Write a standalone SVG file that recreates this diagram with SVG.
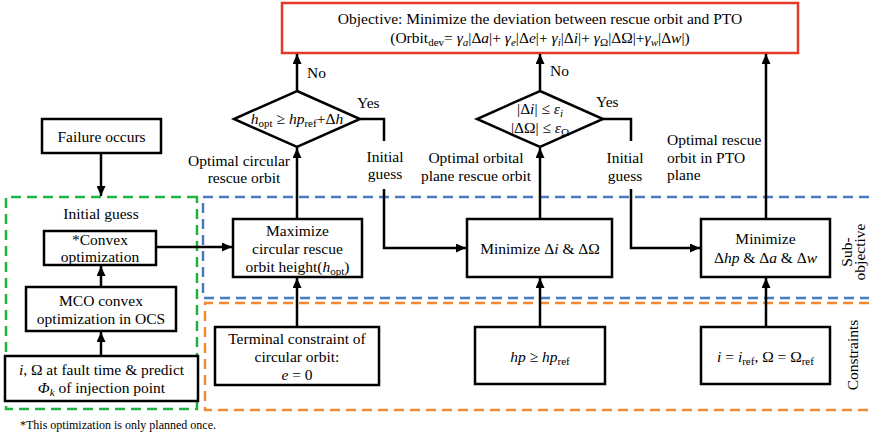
<svg xmlns="http://www.w3.org/2000/svg" width="869" height="438" viewBox="0 0 869 438" font-family="'Liberation Serif', 'DejaVu Serif', serif" font-size="15.5">
<style>
text{font-family:"Liberation Serif","DejaVu Serif",serif;font-size:15.5px;fill:#000}
.m{text-anchor:middle}
.i{font-style:italic}
.box{fill:#fff;stroke:#000;stroke-width:2.5}
.dia{fill:#fff;stroke:#000;stroke-width:2.5}
.ln{fill:none;stroke:#000;stroke-width:2.5}
.dg{fill:none;stroke:#21b33f;stroke-width:2.5;stroke-dasharray:10 6}
.db{fill:none;stroke:#4a7cc4;stroke-width:2.5;stroke-dasharray:10 6}
.do{fill:none;stroke:#ef8a35;stroke-width:2.5;stroke-dasharray:10 6}
.sub{font-size:11px}
</style>
<defs>
<marker id="ah" markerUnits="userSpaceOnUse" markerWidth="10" markerHeight="9" refX="10" refY="4.5" orient="auto">
<path d="M0,0 L10,4.5 L0,9 Z" fill="#000"/>
</marker>
</defs>
<rect width="869" height="438" fill="#fff"/>

<g id="regions">
<path class="dg" d="M197,197 H6 V409 H197 Z"/>
<path class="db" d="M869,197 H203 V298 H869"/>
<path class="do" d="M869,303 H205 V410 H869"/>
</g>

<g id="objective">
<rect x="282" y="3" width="516" height="50" fill="#fff" stroke="#e2392b" stroke-width="2.5"/>
<text class="m" x="540" y="24">Objective: Minimize the deviation between rescue orbit and PTO</text>
<text class="m" x="540" y="43">(Orbit<tspan class="sub" dy="3">dev</tspan><tspan dy="-3">= </tspan><tspan class="i">γ</tspan><tspan class="sub i" dy="3">a</tspan><tspan dy="-3">|Δ</tspan><tspan class="i">a</tspan>|+ <tspan class="i">γ</tspan><tspan class="sub i" dy="3">e</tspan><tspan dy="-3">|Δ</tspan><tspan class="i">e</tspan>|+ <tspan class="i">γ</tspan><tspan class="sub i" dy="3">i</tspan><tspan dy="-3">|Δ</tspan><tspan class="i">i</tspan>|+ <tspan class="i">γ</tspan><tspan class="sub" dy="3">Ω</tspan><tspan dy="-3">|ΔΩ|+</tspan><tspan class="i">γ</tspan><tspan class="sub i" dy="3">w</tspan><tspan dy="-3">|Δ</tspan><tspan class="i">w</tspan>|)</text>
</g>

<g id="failure">
<rect class="box" x="42" y="119" width="119" height="34"/>
<text class="m" x="101.5" y="141.5">Failure occurs</text>
</g>

<g id="initial-guess-label">
<text class="m" x="101" y="219">Initial guess</text>
</g>

<g id="convex">
<rect class="box" x="44" y="231" width="112" height="34"/>
<text class="m" x="100" y="245">*Convex</text>
<text class="m" x="100" y="262">optimization</text>
</g>

<g id="mco">
<rect class="box" x="26" y="287" width="150" height="44"/>
<text class="m" x="101" y="306">MCO convex</text>
<text class="m" x="101" y="324">optimization in OCS</text>
</g>

<g id="fault">
<rect class="box" x="5" y="356" width="193" height="45"/>
<text class="m" x="101.5" y="375"><tspan class="i">i</tspan>, Ω at fault time &amp; predict</text>
<text class="m" x="101.5" y="393"><tspan class="i">Φ</tspan><tspan class="sub i" dy="3">k</tspan><tspan dy="-3"> of injection point</tspan></text>
</g>

<g id="maximize">
<rect class="box" x="233" y="219" width="129" height="58"/>
<text class="m" x="297.5" y="236">Maximize</text>
<text class="m" x="297.5" y="254">circular rescue</text>
<text class="m" x="297.5" y="272">orbit height(<tspan class="i">h</tspan><tspan class="sub" dy="3">opt</tspan><tspan dy="-3">)</tspan></text>
</g>

<g id="terminal">
<rect class="box" x="215" y="327" width="164" height="58"/>
<text class="m" x="297" y="344">Terminal constraint of</text>
<text class="m" x="297" y="362">circular orbit:</text>
<text class="m" x="297" y="380"><tspan class="i">e</tspan> = 0</text>
</g>

<g id="decision1">
<polygon class="dia" points="297,91 360,119 297,147 234,119"/>
<text class="m" x="297" y="124"><tspan class="i">h</tspan><tspan class="sub" dy="3">opt</tspan><tspan dy="-3"> ≥ </tspan><tspan class="i">hp</tspan><tspan class="sub" dy="3">ref</tspan><tspan dy="-3">+Δ</tspan><tspan class="i">h</tspan></text>
</g>

<g id="min-plane">
<rect class="box" x="467" y="219" width="145" height="58"/>
<text class="m" x="540" y="254">Minimize Δ<tspan class="i">i</tspan> &amp; ΔΩ</text>
</g>

<g id="hp-constraint">
<rect class="box" x="475" y="327" width="130" height="57"/>
<text class="m" x="540" y="362"><tspan class="i">hp</tspan> ≥ <tspan class="i">hp</tspan><tspan class="sub" dy="3">ref</tspan></text>
</g>

<g id="decision2">
<polygon class="dia" points="540,91 603,119 540,147 477,119"/>
<text class="m" x="540" y="114">|Δ<tspan class="i">i</tspan>| ≤ <tspan class="i">ε</tspan><tspan class="sub i" dy="3">i</tspan></text>
<text class="m" x="540" y="133">|ΔΩ| ≤ <tspan class="i">ε</tspan><tspan class="sub" dy="3">Ω</tspan></text>
</g>

<g id="min-pto">
<rect class="box" x="701" y="219" width="129" height="58"/>
<text class="m" x="765.5" y="244">Minimize</text>
<text class="m" x="765.5" y="263">Δ<tspan class="i">hp</tspan> &amp; Δ<tspan class="i">a</tspan> &amp; Δ<tspan class="i">w</tspan></text>
</g>

<g id="plane-constraint">
<rect class="box" x="701" y="327" width="129" height="57"/>
<text class="m" x="765.5" y="362"><tspan class="i">i</tspan> = <tspan class="i">i</tspan><tspan class="sub" dy="3">ref</tspan><tspan dy="-3">, Ω = Ω</tspan><tspan class="sub" dy="3">ref</tspan></text>
</g>

<g id="connectors">
<path class="ln" d="M101,153 V196" marker-end="url(#ah)"/>
<path class="ln" d="M101,287 V266" marker-end="url(#ah)"/>
<path class="ln" d="M101,356 V332" marker-end="url(#ah)"/>
<path class="ln" d="M156,247 H232" marker-end="url(#ah)"/>
<path class="ln" d="M297,327 V278" marker-end="url(#ah)"/>
<path class="ln" d="M297,219 V148" marker-end="url(#ah)"/>
<path class="ln" d="M297,91 V54" marker-end="url(#ah)"/>
<path class="ln" d="M360,119 H384 V141"/>
<path class="ln" d="M384,189 V248 H466" marker-end="url(#ah)"/>
<path class="ln" d="M540,219 V148" marker-end="url(#ah)"/>
<path class="ln" d="M540,327 V278" marker-end="url(#ah)"/>
<path class="ln" d="M540,91 V54" marker-end="url(#ah)"/>
<path class="ln" d="M603,119 H631 V141"/>
<path class="ln" d="M631,189 V248 H700" marker-end="url(#ah)"/>
<path class="ln" d="M766,327 V278" marker-end="url(#ah)"/>
<path class="ln" d="M766,219 V54" marker-end="url(#ah)"/>
</g>

<g id="labels">
<text x="307" y="78">No</text>
<text x="550" y="76">No</text>
<text x="357" y="108">Yes</text>
<text x="596" y="107">Yes</text>
<text class="m" x="385" y="162">Initial</text>
<text class="m" x="385" y="179">guess</text>
<text class="m" x="625" y="163">Initial</text>
<text class="m" x="625" y="181">guess</text>
<text class="m" x="239" y="166">Optimal circular</text>
<text class="m" x="244" y="183">rescue orbit</text>
<text class="m" x="476" y="163">Optimal orbital</text>
<text class="m" x="476" y="181">plane rescue orbit</text>
<text x="667" y="145">Optimal rescue</text>
<text x="667" y="163">orbit in PTO</text>
<text x="667" y="180">plane</text>
<text transform="translate(852,252) rotate(-90)" class="m">Sub-</text>
<text transform="translate(865,252) rotate(-90)" class="m">objective</text>
<text transform="translate(858,355) rotate(-90)" class="m">Constraints</text>
<text x="20" y="429" style="font-size:12px">*This optimization is only planned once.</text>
</g>
</svg>
